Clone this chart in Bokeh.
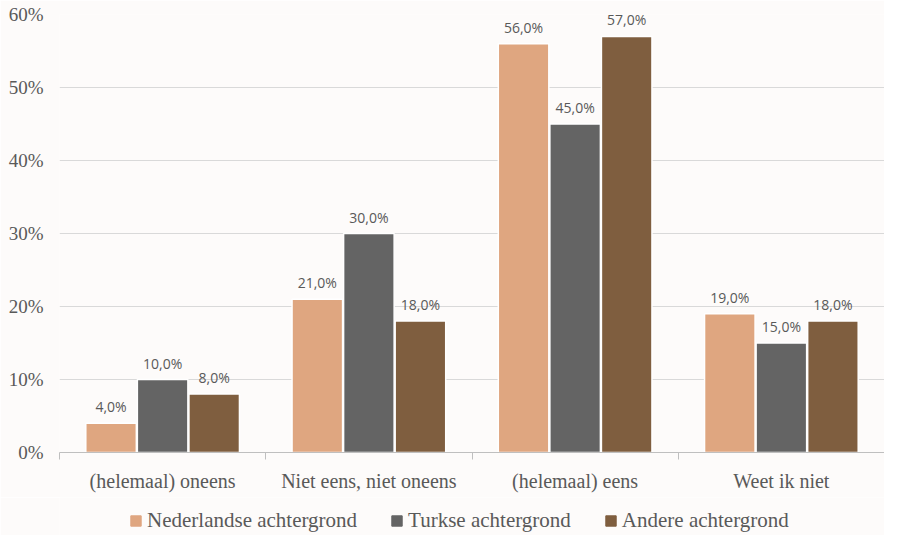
from bokeh.plotting import figure
from bokeh.models import (ColumnDataSource, Range1d, FixedTicker, PrintfTickFormatter,
                          Legend, LegendItem, LabelSet)
from bokeh.layouts import column
from bokeh.core.properties import value
from bokeh.transform import dodge
from bokeh.embed import file_html
from bokeh.resources import INLINE

categories = ["(helemaal) oneens", "Niet eens, niet oneens", "(helemaal) eens", "Weet ik niet"]
series_names = ["Nederlandse achtergrond", "Turkse achtergrond", "Andere achtergrond"]
nederlandse = [4, 21, 56, 19]
turkse = [10, 30, 45, 15]
andere = [8, 18, 57, 18]
y_ticks = [0, 10, 20, 30, 40, 50, 60]

colors = ["#DFA680", "#646464", "#7F5E3F"]
BG = "#FDFBFA"
TXT = "#595959"

xpos = [i + 0.5 for i in range(len(categories))]

def fmt(v):
    return ("%.1f%%" % v).replace(".", ",")

src = ColumnDataSource(dict(
    x=xpos,
    ned=nederlandse, turk=turkse, andere=andere,
    ned_l=[fmt(v) for v in nederlandse],
    turk_l=[fmt(v) for v in turkse],
    andere_l=[fmt(v) for v in andere],
))

W = 884
p = figure(width=W, height=497, output_backend="svg", toolbar_location=None,
           x_range=Range1d(0, 4), y_range=Range1d(0, 60),
           min_border_left=59, min_border_right=0, min_border_top=14, min_border_bottom=45)
p.background_fill_color = BG
p.border_fill_color = BG
p.outline_line_color = None

offsets = [-0.25, 0.0, 0.25]
fields = ["ned", "turk", "andere"]
for off, f, c in zip(offsets, fields, colors):
    p.vbar(x=dodge("x", off, range=p.x_range), top=f, width=0.245, source=src,
           fill_color=c, line_color="white", line_width=1.5)
    lab = LabelSet(x=dodge("x", off, range=p.x_range), y=f, text=f + "_l", source=src,
                   text_align="center", text_baseline="bottom", y_offset=7,
                   text_font=value("Open Sans"), text_font_size="14px", text_color=TXT)
    p.add_layout(lab)

# axes
p.xaxis.ticker = FixedTicker(ticks=xpos, minor_ticks=list(range(len(categories) + 1)))
p.xaxis.major_label_overrides = {x: c for x, c in zip(xpos, categories)}
p.xaxis.major_tick_line_color = None
p.xaxis.minor_tick_in = 0
p.xaxis.minor_tick_out = 7
p.xaxis.minor_tick_line_color = "#BFBFBF"
p.xaxis.axis_line_color = "#BFBFBF"
p.xaxis.axis_line_width = 1
p.xaxis.major_label_text_font = "Liberation Serif"
p.xaxis.major_label_text_font_size = "20px"
p.xaxis.major_label_text_color = TXT
p.xaxis.major_label_standoff = 10

p.yaxis.ticker = FixedTicker(ticks=y_ticks)
p.yaxis.formatter = PrintfTickFormatter(format="%d%%")
p.yaxis.axis_line_color = None
p.yaxis.major_tick_line_color = None
p.yaxis.minor_tick_line_color = None
p.yaxis.major_label_text_font = "Liberation Serif"
p.yaxis.major_label_text_font_size = "19px"
p.yaxis.major_label_text_color = TXT
p.yaxis.major_label_standoff = 10

p.xgrid.grid_line_color = None
p.ygrid.grid_line_color = "#D9D9D9"
p.ygrid.ticker = FixedTicker(ticks=y_ticks)

# legend strip (its swatch renderers use the same data, kept outside the visible range)
lg = figure(width=W, height=38, output_backend="svg", toolbar_location=None,
            x_range=Range1d(0, 4), y_range=Range1d(1000, 1001),
            x_axis_location=None, y_axis_location=None,
            min_border_left=0, min_border_right=0, min_border_top=0, min_border_bottom=0)
lg.background_fill_color = BG
lg.border_fill_color = BG
lg.outline_line_color = None
lg.grid.visible = False
items = []
for f, c, name in zip(fields, colors, series_names):
    r = lg.vbar(x="x", top=f, width=0.2, source=src, fill_color=c, line_color=c)
    items.append(LegendItem(label=name, renderers=[r]))

legend = Legend(items=items, orientation="horizontal", location=(70, 2),
                label_text_font="Liberation Serif", label_text_font_size="21px",
                label_text_color=TXT, glyph_width=13, glyph_height=13,
                spacing=33, label_standoff=5, padding=0, margin=0,
                background_fill_alpha=0, border_line_color=None)
lg.add_layout(legend, "center")

layout = column(p, lg, spacing=0)
open("out.html", "w").write(file_html(layout, INLINE))
